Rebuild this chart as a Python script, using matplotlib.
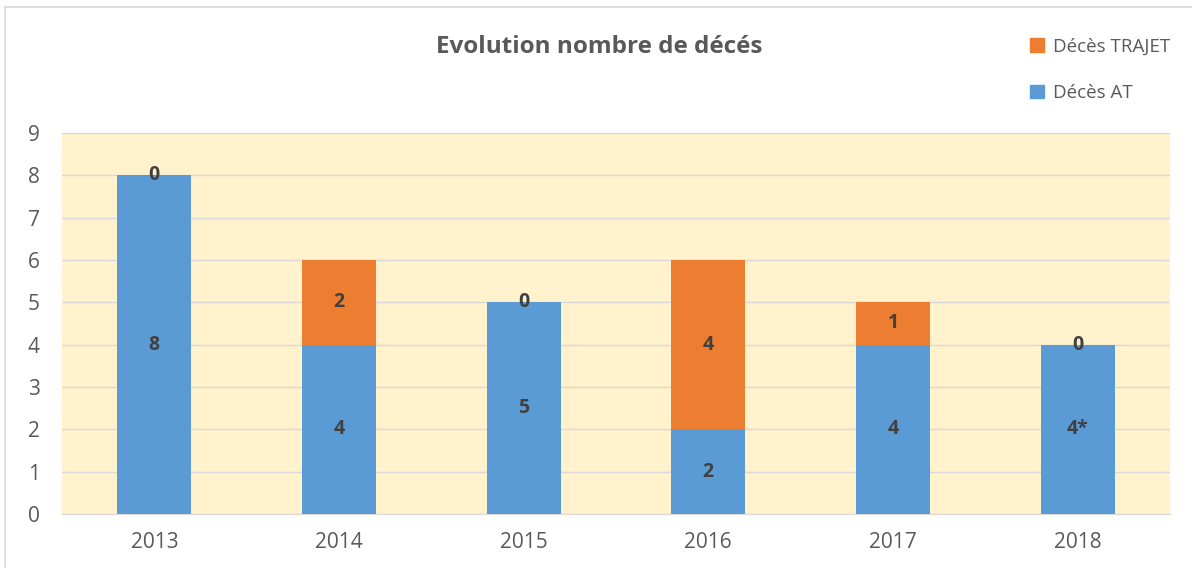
import matplotlib
matplotlib.use('Agg')
import matplotlib.pyplot as plt
from matplotlib.lines import Line2D
from matplotlib.patches import Patch
import numpy as np

# Donnees
annees = ['2013', '2014', '2015', '2016', '2017', '2018']
deces_at = [8, 4, 5, 2, 4, 4]
deces_trajet = [0, 2, 0, 4, 1, 0]
etiquettes_at = ['8', '4', '5', '2', '4', '4*']
etiquettes_trajet = ['0', '2', '0', '4', '1', '0']

bleu = '#5B9BD5'
orange = '#ED7D31'
fond = '#FFF2CC'
gris = '#595959'

plt.rcParams['font.family'] = ['Open Sans', 'DejaVu Sans']

fig = plt.figure(figsize=(11.92, 5.68), dpi=100)
ax = fig.add_axes([0.052, 0.095, 0.9295, 0.671])
ax.set_facecolor(fond)

x = np.arange(len(annees))
b1 = ax.bar(x, deces_at, width=0.40, color=bleu, zorder=3)
b2 = ax.bar(x, deces_trajet, width=0.40, bottom=deces_at, color=orange, zorder=3)

ax.bar_label(b1, labels=etiquettes_at, label_type='center', fontsize=14,
             fontweight='bold', color='#404040', zorder=4)
ax.bar_label(b2, labels=etiquettes_trajet, label_type='center', fontsize=14,
             fontweight='bold', color='#404040', zorder=4)

ax.set_xlim(-0.5, 5.5)
ax.set_ylim(0, 9)
ax.set_yticks(range(0, 10))
ax.set_xticks(x)
ax.set_xticklabels(annees)
ax.grid(axis='y', color='#D9D9D9', linewidth=1, zorder=0)
ax.tick_params(length=0, labelsize=15, colors=gris)
ax.tick_params(axis='x', pad=13)
ax.tick_params(axis='y', pad=16)
for s in ['top', 'right', 'left']:
    ax.spines[s].set_visible(False)
ax.spines['bottom'].set_color('#D9D9D9')

fig.text(0.503, 0.918, 'Evolution nombre de décés', ha='center', va='center',
         fontsize=17.5, fontweight='bold', color=gris)

# legende en haut a droite
poignees = [Patch(color=orange), Patch(color=bleu)]
leg = fig.legend(poignees, ['Décès TRAJET', 'Décès AT'], loc='upper left',
                 bbox_to_anchor=(0.85, 0.963), frameon=False, fontsize=13.5,
                 handlelength=0.75, handleheight=0.75, handletextpad=0.45,
                 labelspacing=1.5, labelcolor=gris)

# cadre du graphique
fig.add_artist(Line2D([5 / 1192, 5 / 1192], [0, 1 - 7 / 568], color='#D9D9D9', linewidth=1.2))
fig.add_artist(Line2D([5 / 1192, 1], [1 - 7 / 568, 1 - 7 / 568], color='#D9D9D9', linewidth=1.2))

plt.savefig('out.png', dpi=100)
